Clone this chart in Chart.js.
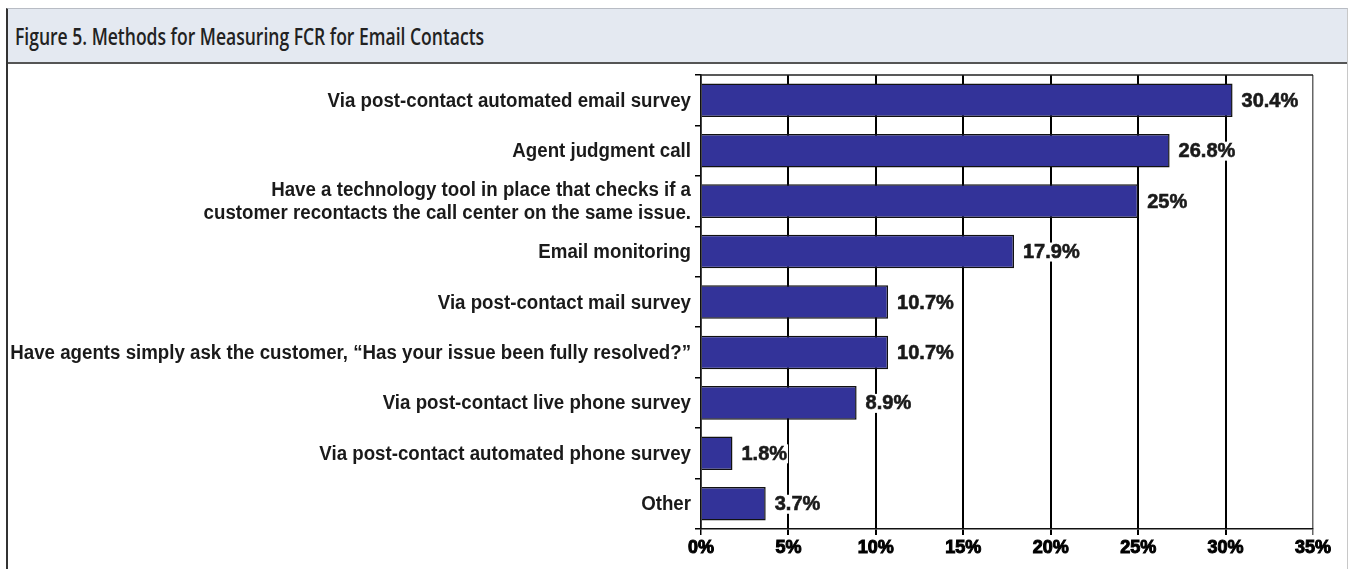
<!DOCTYPE html>
<html>
<head>
<meta charset="utf-8">
<script src="https://cdn.jsdelivr.net/npm/chart.js@4"></script>
<style>
  body { margin: 0; background: #fff; width: 1349px; height: 569px; overflow: hidden; position: relative; }
  #box { position: absolute; left: 6px; top: 8px; width: 1339px; height: 570px;
         border-left: 2px solid #333; border-top: 1px solid #b8bcc4; border-right: 1px solid #c8c8c8; }
  #head { position: absolute; left: 0; top: 0; width: 100%; height: 53px; background: #e4e9f1;
          border-bottom: 2px solid #555; }
  #head span { position: absolute; left: 7px; top: 10px; font-family: "Open Sans", sans-serif;
               font-weight: 600; font-size: 24px; color: #222; white-space: nowrap;
               transform: scaleX(0.73); transform-origin: 0 50%; }
  #myPlot { position: absolute; left: 8px; top: 64px; }
</style>
</head>
<body>
<div id="box"><div id="head"><span>Figure 5. Methods for Measuring FCR for Email Contacts</span></div></div>
<canvas id="myPlot" width="1337" height="505"></canvas>
<script>
const methods = [
  "Via post-contact automated email survey",
  "Agent judgment call",
  ["Have a technology tool in place that checks if a", "customer recontacts the call center on the same issue."],
  "Email monitoring",
  "Via post-contact mail survey",
  "Have agents simply ask the customer, \u201cHas your issue been fully resolved?\u201d",
  "Via post-contact live phone survey",
  "Via post-contact automated phone survey",
  "Other"
];
const shares = [30.4, 26.8, 25, 17.9, 10.7, 10.7, 8.9, 1.8, 3.7];
const xTicks = [0, 5, 10, 15, 20, 25, 30, 35];

const sans = '"Liberation Sans", Arial, sans-serif';

// category names squeezed a little (the original uses a narrow face)
const catLabels = {
  id: "catLabels",
  afterDraw(chart) {
    const ctx = chart.ctx;
    const y = chart.scales.y;
    ctx.save();
    ctx.font = "bold 20px " + sans;
    ctx.fillStyle = "#1a1a1a";
    ctx.textAlign = "right";
    ctx.textBaseline = "middle";
    methods.forEach((m, i) => {
      const lines = Array.isArray(m) ? m : [m];
      const yc = y.getPixelForTick(i);
      const lh = 23;
      lines.forEach((t, k) => {
        ctx.save();
        ctx.translate(683, yc + (k - (lines.length - 1) / 2) * lh);
        ctx.scale(0.935, 1);
        ctx.fillText(t, 0, 1);
        ctx.restore();
      });
    });
    ctx.restore();
  }
};

// value labels next to each bar + top border of the plot
const barLabels = {
  id: "barLabels",
  afterDatasetsDraw(chart) {
    const ctx = chart.ctx;
    const meta = chart.getDatasetMeta(0);
    ctx.save();
    ctx.font = "bold 20px " + sans;
    ctx.textBaseline = "middle";
    meta.data.forEach((bar, i) => {
      const t = shares[i] + "%";
      const w = ctx.measureText(t).width;
      ctx.fillStyle = "#fff";
      ctx.fillRect(bar.x + 8, bar.y - 9, w + 2, 19);
      ctx.fillStyle = "#1a1a1a";
      ctx.strokeStyle = "#1a1a1a";
      ctx.lineWidth = 0.6;
      ctx.fillText(t, bar.x + 9, bar.y + 1);
      ctx.strokeText(t, bar.x + 9, bar.y + 1);
    });
    const a = chart.chartArea;
    ctx.strokeStyle = "#222";
    ctx.lineWidth = 1.5;
    ctx.beginPath();
    ctx.moveTo(a.left, a.top);
    ctx.lineTo(a.right, a.top);
    ctx.stroke();
    ctx.restore();
  }
};

new Chart("myPlot", {
  type: "bar",
  data: {
    labels: methods,
    datasets: [{
      data: shares,
      backgroundColor: "#333399",
      borderColor: "#111",
      borderWidth: 1.5,
      borderSkipped: "left",
      barPercentage: 0.665,
      categoryPercentage: 1
    }]
  },
  plugins: [barLabels, catLabels],
  options: {
    indexAxis: "y",
    responsive: false,
    animation: false,
    devicePixelRatio: 1,
    layout: {padding: {left: 0, top: 11, right: 32, bottom: 0}},
    plugins: {legend: {display: false}, tooltip: {enabled: false}},
    scales: {
      x: {
        min: 0, max: 35,
        afterBuildTicks: (scale) => { scale.ticks = xTicks.map(v => ({value: v})); },
        afterFit: (scale) => { scale.height = 40; },
        border: {color: "#111", width: 1.5},
        grid: {
          color: (c) => c.tick && c.tick.value === 35 ? "#666" : "#000",
          lineWidth: (c) => c.tick && (c.tick.value === 35 || c.tick.value === 0) ? 1.5 : 2,
          tickLength: 6
        },
        ticks: {
          callback: (v) => v + "%",
          color: "#000",
          textStrokeColor: "#000",
          textStrokeWidth: 1,
          font: {family: sans, weight: "bold", size: 18},
          padding: 2,
          maxRotation: 0
        }
      },
      y: {
        afterFit: (scale) => { scale.width = 693; },
        border: {color: "#111", width: 1.5},
        grid: {drawOnChartArea: false, color: "#000", lineWidth: 1.5, tickLength: 6},
        ticks: {display: false}
      }
    }
  }
});
</script>
</body>
</html>
